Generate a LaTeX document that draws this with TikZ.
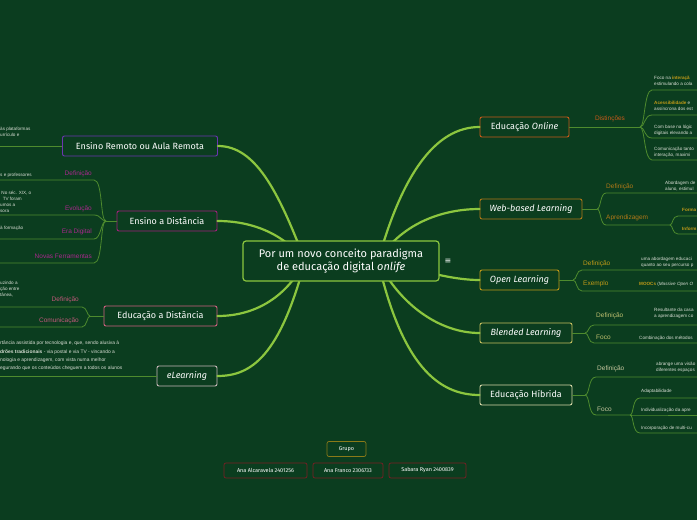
\documentclass[tikz,border=0pt]{standalone}
\usepackage{fontspec}
\setmainfont{Liberation Sans}
\newfontfamily\titlefont{Fira Sans}
\newfontfamily\symfont{DejaVu Sans}
\definecolor{bg}{HTML}{0B3D1F}
\definecolor{maincon}{HTML}{8CC63F}
\definecolor{subcon}{HTML}{4E8B2E}
\definecolor{txt}{HTML}{D8DED4}
\definecolor{cRemoto}{HTML}{6B35B0}
\definecolor{cEaD}{HTML}{A0207A}
\definecolor{lEaD}{HTML}{A8288C}
\definecolor{cEdD}{HTML}{D06080}
\definecolor{lEdD}{HTML}{C0587A}
\definecolor{cEL}{HTML}{C8B8B8}
\definecolor{cOn}{HTML}{C85A1A}
\definecolor{cWeb}{HTML}{B07818}
\definecolor{cOpen}{HTML}{C09A18}
\definecolor{cBl}{HTML}{C8C060}
\definecolor{lBl}{HTML}{C0C070}
\definecolor{cHi}{HTML}{D8D8A8}
\definecolor{lHi}{HTML}{C8C8A0}
\definecolor{cGrupo}{HTML}{8A7A18}
\definecolor{cMem}{HTML}{7A1E24}
\newcommand\obold[2]{\textcolor{#1}{\textbf{#2}}}
\begin{document}
\begin{tikzpicture}[x=1pt,y=-1pt,
  topic/.style={draw, rounded corners=2pt, fill=bg, line width=0.9pt, text=white,
    font=\titlefont\fontsize{9}{10}\selectfont, minimum height=20pt, inner xsep=3pt, inner ysep=0pt},
  mcon/.style={draw=maincon, line width=2.2pt, line cap=round},
  scon/.style={draw=subcon, line width=0.8pt},
  lab/.style={font=\fontsize{6.5}{7.5}\selectfont, inner sep=0pt},
  small/.style={anchor=north west, inner sep=0pt, font=\fontsize{4.6}{6}\selectfont, text=txt, align=left},
  member/.style={draw=cMem, rounded corners=2pt, fill=bg, line width=0.7pt, text=white,
    font=\titlefont\fontsize{5.5}{6.5}\selectfont, minimum height=15pt, inner xsep=2pt, inner ysep=0pt}
]
\fill[bg] (0,0) rectangle (697,520);
\useasboundingbox (0,0) rectangle (697,520);
\clip (0,0) rectangle (697,520);

% topic nodes
\node[topic, draw=cRemoto, minimum width=155pt] (rem) at (140,146) {Ensino Remoto ou Aula Remota};
\node[topic, draw=cEaD, minimum width=100pt] (ead) at (167,221) {Ensino a Distância};
\node[topic, draw=cEdD, minimum width=113pt] (edd) at (160.5,316) {Educação a Distância};
\node[topic, draw=cEL, minimum width=60pt] (el) at (187,376) {\textit{eLearning}};
\node[topic, draw=cOn, minimum width=89pt] (on) at (524.5,127) {Educação \textit{Online}};
\node[topic, draw=cWeb, minimum width=102pt] (web) at (531,209) {\textit{Web-based Learning}};
\node[topic, draw=cOpen, minimum width=79pt] (open) at (519.5,280) {\textit{Open Learning}};
\node[topic, draw=cBl, minimum width=92pt] (bl) at (526,333) {\textit{Blended Learning}};
\node[topic, draw=cHi, minimum width=92pt] (hi) at (526,395) {Educação Híbrida};

% main connectors
\coordinate (cl) at (305,261);
\coordinate (cr) at (378,261);
\draw[mcon] (cl) .. controls (278,190) and (255,146) .. (rem.east);
\draw[mcon] (cl) .. controls (282,232) and (250,221) .. (ead.east);
\draw[mcon] (cl) .. controls (285,300) and (252,316) .. (edd.east);
\draw[mcon] (cl) .. controls (280,355) and (252,376) .. (el.east);
\draw[mcon] (cr) .. controls (402,175) and (435,127) .. (on.west);
\draw[mcon] (cr) .. controls (400,225) and (440,209) .. (web.west);
\draw[mcon] (cr) .. controls (415,268) and (448,280) .. (open.west);
\draw[mcon] (cr) .. controls (400,305) and (440,333) .. (bl.west);
\draw[mcon] (cr) .. controls (402,365) and (438,395) .. (hi.west);

% central node
\node[draw=maincon, fill=bg, rounded corners=3pt, line width=1.2pt, text=white, align=center,
  font=\titlefont\fontsize{11}{13}\selectfont, minimum width=196pt, minimum height=40pt, inner sep=0pt]
  (c) at (341,261) {Por um novo conceito paradigma\\de educação digital \textit{onlife}};
\node[text=white, font=\symfont\fontsize{8}{9}\selectfont, inner sep=0pt] (menu) at (448,261) {≡};

% ---- Ensino Remoto
\coordinate (remE) at (0,146);
\draw[scon] (rem.west) -- (remE);
\node[small] (remT) at (0,126.5) {às plataformas\\urrículo e};

% ---- Ensino a Distância
\coordinate (eadJ) at (106,221);
\coordinate (eadA) at (0,180);
\coordinate (eadB) at (0,215);
\coordinate (eadC) at (0,239);
\coordinate (eadD) at (0,263);
\draw[scon] (ead.west) -- (eadJ);
\draw[scon] (eadJ) .. controls (100,221) and (103,180) .. (94,180) -- (eadA);
\draw[scon] (eadJ) .. controls (101,221) and (101,215) .. (94,215) -- (eadB);
\draw[scon] (eadJ) .. controls (101,221) and (101,239) .. (94,239) -- (eadC);
\draw[scon] (eadJ) .. controls (100,221) and (103,263) .. (94,263) -- (eadD);
\node[lab, text=lEaD, anchor=east] (eadLA) at (92,174) {Definição};
\node[lab, text=lEaD, anchor=east] (eadLB) at (92,209) {Evolução};
\node[lab, text=lEaD, anchor=east] (eadLC) at (92,232) {Era Digital};
\node[lab, text=lEaD, anchor=east] (eadLD) at (92,256) {Novas Ferramentas};
\node[small] (eadTA) at (0,172.5) {s e professores};
\node[small] (eadTB) at (0,190.5) {\ No séc. XIX, o\\\ \ TV foram\\umos a\\sora};
\node[small] (eadTC) at (0,225.5) {à formação};

% ---- Educação a Distância
\coordinate (eddJ) at (90,316);
\coordinate (eddA) at (0,307);
\coordinate (eddB) at (0,327);
\draw[scon] (edd.west) -- (eddJ);
\draw[scon] (eddJ) .. controls (87,316) and (87,307) .. (82,307) -- (eddA);
\draw[scon] (eddJ) .. controls (87,316) and (87,327) .. (82,327) -- (eddB);
\node[lab, text=lEdD, anchor=east] (eddLA) at (79,299.5) {Definição};
\node[lab, text=lEdD, anchor=east] (eddLB) at (79,321) {Comunicação};
\node[small] (eddT) at (0,281) {uzindo a\\ção entre\\tânea,};

% ---- eLearning
\coordinate (elE) at (0,376);
\draw[scon] (el.west) -- (elE);
\node[small, font=\fontsize{4.9}{8.3}\selectfont] (elT) at (0,341) {rtância assistida por tecnologia e, que, sendo alusiva à\\\textbf{drões tradicionais} - via postal e via TV - vincando a\\nologia e aprendizagem, com vista numa melhor\\egurando que os conteúdos cheguem a todos os alunos};

% ---- Educação Online
\coordinate (onJ) at (640,127);
\draw[scon] (on.east) -- (onJ);
\node[lab, text=cOn] (onL) at (610,119) {Distinções};
\foreach \yy/\nm in {90/a,115/b,138/c,160/d}{
  \coordinate (onE\nm) at (697,\yy);
  \draw[scon] (onJ) .. controls (645,127) and (644,\yy) .. (652,\yy) -- (onE\nm);
}
\node[small] (onTA) at (654,76) {Foco na \obold{cOpen}{interaçã}\\estimulando a cola};
\node[small] (onTB) at (654,100.5) {\obold{cOpen}{Acessibilidade} e\\assíncrona dos est};
\node[small] (onTC) at (654,125) {Com base na lógic\\digitais elevando a};
\node[small] (onTD) at (654,147) {Comunicação tanto\\interação, maximi};

% ---- Web-based Learning
\coordinate (webJ) at (597,209);
\coordinate (webEA) at (697,193);
\coordinate (webJ2) at (670,225);
\draw[scon] (web.east) -- (webJ);
\draw[scon] (webJ) .. controls (601,209) and (600,193) .. (606,193) -- (webEA);
\draw[scon] (webJ) .. controls (601,209) and (600,225) .. (606,225) -- (webJ2);
\coordinate (webEB) at (697,216);
\coordinate (webEC) at (697,234);
\draw[scon] (webJ2) .. controls (673,225) and (672,216) .. (678,216) -- (webEB);
\draw[scon] (webJ2) .. controls (673,225) and (672,234) .. (678,234) -- (webEC);
\node[lab, text=cWeb, anchor=west] (webLA) at (606,187) {Definição};
\node[lab, text=cWeb, anchor=west] (webLB) at (606,218) {Aprendizagem};
\node[small] (webTA) at (665,181) {Abordagem de\\aluno, estimul};
\node[small, text=cOpen, font=\bfseries\fontsize{4.6}{6}\selectfont] (webTB) at (682,208.5) {Forma};
\node[small, text=cOpen, font=\bfseries\fontsize{4.6}{6}\selectfont] (webTC) at (682,226.5) {Inform};

% ---- Open Learning
\coordinate (opJ) at (573,280);
\coordinate (opEA) at (697,270);
\coordinate (opEB) at (697,291);
\draw[scon] (open.east) -- (opJ);
\draw[scon] (opJ) .. controls (577,280) and (576,270) .. (582,270) -- (opEA);
\draw[scon] (opJ) .. controls (577,280) and (576,291) .. (582,291) -- (opEB);
\node[lab, text=cOpen, anchor=west] (opLA) at (583,263.5) {Definição};
\node[lab, text=cOpen, anchor=west] (opLB) at (583,284) {Exemplo};
\node[small] (opTA) at (641,257) {uma abordagem educaci\\quanto ao seu percurso p};
\node[small] (opTB) at (639,282) {\obold{cOpen}{MOOCs} (\textit{Massive Open O}};

% ---- Blended Learning
\coordinate (blJ) at (585,333);
\coordinate (blEA) at (697,325);
\coordinate (blEB) at (697,343);
\draw[scon] (bl.east) -- (blJ);
\draw[scon] (blJ) .. controls (589,333) and (588,325) .. (594,325) -- (blEA);
\draw[scon] (blJ) .. controls (589,333) and (588,343) .. (594,343) -- (blEB);
\node[lab, text=lBl, anchor=west] (blLA) at (596,316) {Definição};
\node[lab, text=lBl, anchor=west] (blLB) at (596,337) {Foco};
\node[small] (blTA) at (654,308) {Resultante da casa\\a aprendizagem co};
\node[small] (blTB) at (639,336) {Combinação dos métodos};

% ---- Educação Híbrida
\coordinate (hiJ) at (585,395);
\coordinate (hiEA) at (697,377);
\coordinate (hiJ2) at (630,415);
\draw[scon] (hi.east) -- (hiJ);
\draw[scon] (hiJ) .. controls (590,395) and (588,377) .. (596,377) -- (hiEA);
\draw[scon] (hiJ) .. controls (590,395) and (588,415) .. (596,415) -- (hiJ2);
\foreach \yy/\nm in {398/a,415/b,433/c}{
  \coordinate (hiE\nm) at (697,\yy);
  \draw[scon] (hiJ2) .. controls (634,415) and (632,\yy) .. (640,\yy) -- (hiE\nm);
}
\node[lab, text=lHi, anchor=west] (hiLA) at (597,369) {Definição};
\node[lab, text=lHi, anchor=west] (hiLB) at (597,409) {Foco};
\node[small] (hiTA) at (656,362) {abrange uma visão\\diferentes espaços};
\node[small] (hiTB) at (641,389) {Adaptabilidade};
\node[small] (hiTC) at (641,408) {Individualização da apre};
\node[small] (hiTD) at (641,426) {Incorporação de multi-cu};

% ---- Grupo
\node[member, draw=cGrupo, minimum width=39pt] (grp) at (346.5,449) {Grupo};
\node[member, minimum width=83pt] (m1) at (265.5,470.5) {Ana Alcaravela 2401256};
\node[member, minimum width=70pt] (m2) at (348,470.5) {Ana Franco 2306733};
\node[member, minimum width=77pt] (m3) at (427.5,470.5) {Sabara Ryan 2400839};
\end{tikzpicture}
\end{document}
